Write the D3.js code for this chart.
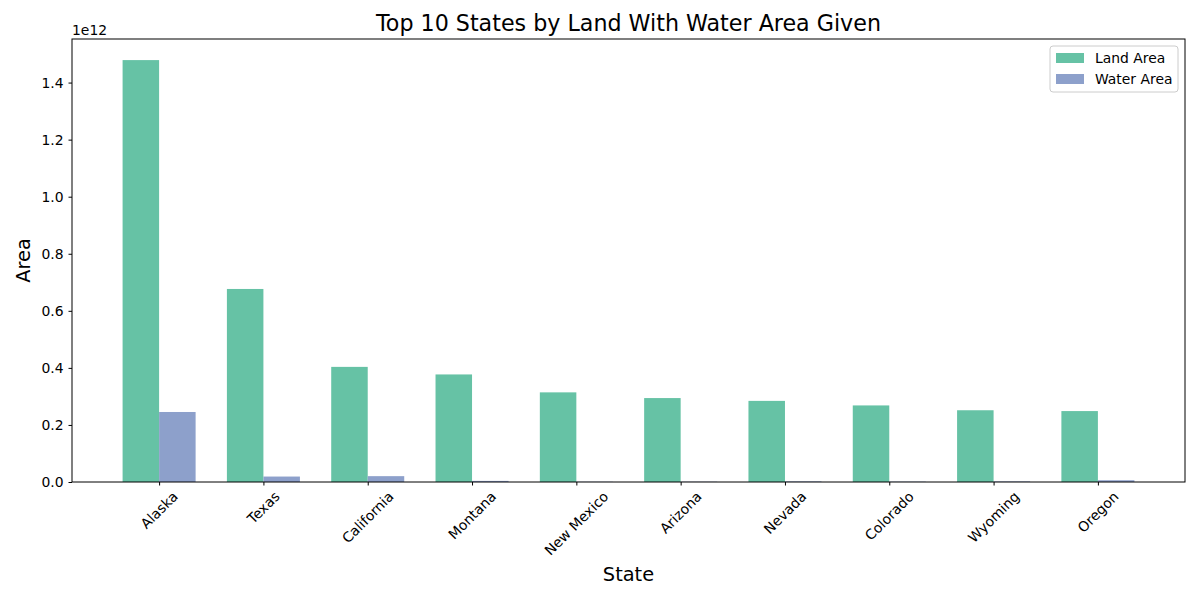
<!DOCTYPE html>
<html>
<head>
<meta charset="utf-8">
<script src="https://cdn.jsdelivr.net/npm/d3@7"></script>
<style>
  body { margin: 0; background: #fff; }
  svg { font-family: "DejaVu Sans", sans-serif; }
</style>
</head>
<body>
<div id="bar-chart"></div>
<script>
const states = ["Alaska", "Texas", "California", "Montana", "New Mexico",
  "Arizona", "Nevada", "Colorado", "Wyoming", "Oregon"]
const landArea = [1.4788e12, 0.6766e12, 0.4035e12, 0.3770e12, 0.3142e12,
  0.2942e12, 0.2843e12, 0.2684e12, 0.2515e12, 0.2486e12]
const waterArea = [0.2454e12, 0.0191e12, 0.0205e12, 0.0039e12, 0.0008e12,
  0.0010e12, 0.0020e12, 0.0012e12, 0.0019e12, 0.0062e12]
const yTicks = [0, 0.2e12, 0.4e12, 0.6e12, 0.8e12, 1.0e12, 1.2e12, 1.4e12]
const seriesNames = ["Land Area", "Water Area"]

const drawBarChart = () => {
  const width = 1200
  const height = 600
  const margin = { top: 39, right: 15, bottom: 118, left: 72 }
  const innerWidth = width - margin.left - margin.right
  const innerHeight = height - margin.top - margin.bottom

  const land = "#66c2a5"
  const water = "#8da0cb"
  const tickFont = 13.9

  const svg = d3.select("#bar-chart")
    .append("svg")
      .attr("width", width)
      .attr("height", height)

  const chart = svg.append("g")
    .attr("transform", `translate(${margin.left}, ${margin.top})`)

  // index scale, same limits matplotlib picks for width 0.35 bars
  const barW = 0.35
  const pad = 0.05 * (states.length - 1 + 2 * barW)
  const xScale = d3.scaleLinear()
    .domain([-barW - pad, states.length - 1 + barW + pad])
    .range([0, innerWidth])

  const yMax = d3.max(landArea.concat(waterArea)) * 1.05
  const yScale = d3.scaleLinear()
    .domain([0, yMax])
    .range([innerHeight, 0])

  const rows = states.map((s, i) => ({ state: s, i, land: landArea[i], water: waterArea[i] }))

  chart.selectAll("rect.land")
    .data(rows)
    .join("rect")
      .attr("class", "land")
      .attr("x", d => xScale(d.i - barW))
      .attr("width", d => xScale(d.i) - xScale(d.i - barW))
      .attr("y", d => yScale(d.land))
      .attr("height", d => innerHeight - yScale(d.land))
      .attr("fill", land)

  chart.selectAll("rect.water")
    .data(rows)
    .join("rect")
      .attr("class", "water")
      .attr("x", d => xScale(d.i))
      .attr("width", d => xScale(d.i + barW) - xScale(d.i))
      .attr("y", d => yScale(d.water))
      .attr("height", d => innerHeight - yScale(d.water))
      .attr("fill", water)

  // y axis
  const yAxis = d3.axisLeft(yScale)
    .tickValues(yTicks)
    .tickSize(3.5)
    .tickPadding(5)
    .tickFormat(d => (d / 1e12).toFixed(1))
  const gy = chart.append("g").call(yAxis)
  gy.select(".domain").remove()
  gy.selectAll("text").attr("font-size", tickFont).attr("font-family", "DejaVu Sans").attr("fill", "#000")
  gy.selectAll("line").attr("stroke", "#000")

  // x axis
  const xAxis = d3.axisBottom(xScale)
    .tickValues(states.map((s, i) => i))
    .tickSize(3.5)
    .tickFormat("")
  const gx = chart.append("g")
    .attr("transform", `translate(0, ${innerHeight})`)
    .call(xAxis)
  gx.select(".domain").remove()
  gx.selectAll("line").attr("stroke", "#000")

  // rotated tick labels, bbox centred under tick
  rows.forEach(d => {
    const t = chart.append("text")
      .attr("font-size", tickFont)
      .attr("text-anchor", "middle")
      .attr("dominant-baseline", "central")
      .text(d.state)
    const w = t.node().getComputedTextLength()
    const boxH = (w + tickFont) * Math.SQRT1_2
    const cx = xScale(d.i)
    const cy = innerHeight + 7 + boxH / 2
    t.attr("transform", `translate(${cx}, ${cy}) rotate(-45)`)
  })

  // frame
  chart.append("rect")
    .attr("width", innerWidth)
    .attr("height", innerHeight)
    .attr("fill", "none")
    .attr("stroke", "#000")
    .attr("stroke-width", 1)

  // offset label
  svg.append("text")
    .attr("x", margin.left)
    .attr("y", 35)
    .attr("font-size", tickFont)
    .text("1e12")

  svg.append("text")
    .attr("x", margin.left + innerWidth / 2)
    .attr("y", 31)
    .attr("text-anchor", "middle")
    .attr("font-size", 22.2)
    .text("Top 10 States by Land With Water Area Given")

  svg.append("text")
    .attr("x", margin.left + innerWidth / 2)
    .attr("y", 581)
    .attr("text-anchor", "middle")
    .attr("font-size", 19.4)
    .text("State")

  svg.append("text")
    .attr("transform", `translate(30, ${margin.top + innerHeight / 2}) rotate(-90)`)
    .attr("text-anchor", "middle")
    .attr("font-size", 19.4)
    .text("Area")

  // legend
  const legend = svg.append("g").attr("transform", "translate(1050, 46)")
  legend.append("rect")
    .attr("width", 128)
    .attr("height", 46)
    .attr("rx", 3)
    .attr("fill", "#fff")
    .attr("fill-opacity", 0.8)
    .attr("stroke", "#ccc")
  const colors = [land, water]
  seriesNames.forEach((name, i) => {
    legend.append("rect")
      .attr("x", 6)
      .attr("y", 7 + i * 21)
      .attr("width", 28)
      .attr("height", 10)
      .attr("fill", colors[i])
    legend.append("text")
      .attr("x", 45)
      .attr("y", 12 + i * 21)
      .attr("dominant-baseline", "central")
      .attr("font-size", tickFont)
      .text(name)
  })
}

drawBarChart()
</script>
</body>
</html>
